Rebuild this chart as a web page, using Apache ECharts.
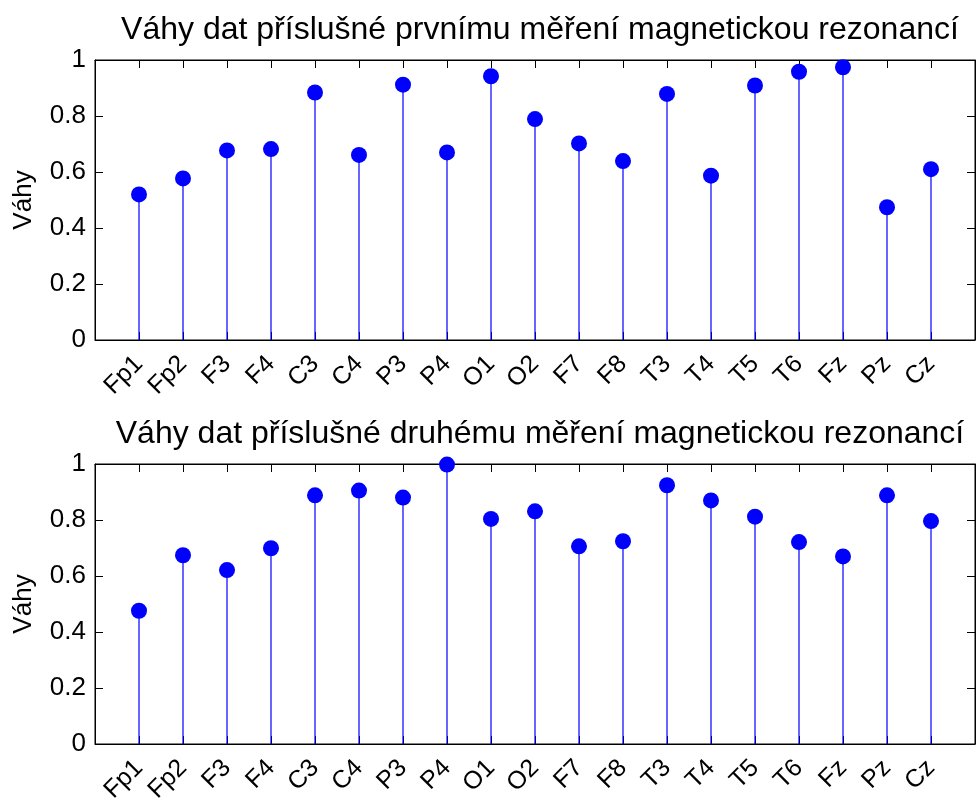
<!DOCTYPE html>
<html>
<head>
<meta charset="utf-8">
<script src="https://cdn.jsdelivr.net/npm/echarts@6/dist/echarts.min.js"></script>
<style>html,body{margin:0;padding:0;background:#fff}#c{width:976px;height:805px}</style>
</head>
<body>
<div id="c"></div>
<script>
const categories = ['Fp1','Fp2','F3','F4','C3','C4','P3','P4','O1','O2','F7','F8','T3','T4','T5','T6','Fz','Pz','Cz'];
const weights1 = [0.520,0.577,0.677,0.682,0.884,0.661,0.912,0.670,0.942,0.789,0.702,0.639,0.879,0.587,0.909,0.958,0.974,0.474,0.610];
const weights2 = [0.476,0.674,0.621,0.699,0.888,0.905,0.880,0.998,0.804,0.831,0.706,0.724,0.924,0.870,0.812,0.721,0.670,0.888,0.796];
const yTicks = [0, 0.2, 0.4, 0.6, 0.8, 1];
const titles = ['Váhy dat příslušné prvnímu měření magnetickou rezonancí',
                'Váhy dat příslušné druhému měření magnetickou rezonancí'];
const yName = 'Váhy';

const FONT = 'Liberation Sans, Arial, sans-serif';
const BLUE = '#0000FF';
const chart = echarts.init(document.getElementById('c'));

const grids = [
  {left: 95, top: 60, width: 880, height: 280, containLabel: false, outerBoundsMode: 'none',
   show: true, borderColor: '#000', borderWidth: 1},
  {left: 95, top: 464, width: 880, height: 280, containLabel: false, outerBoundsMode: 'none',
   show: true, borderColor: '#000', borderWidth: 1}
];
const xAxes = [], yAxes = [], series = [];
const datasets = [weights1, weights2];
const tickStyle = {show: true, inside: true, length: 8, lineStyle: {color: '#000', width: 1}};
const lineStyle = {show: true, onZero: false, lineStyle: {color: '#000', width: 1}};
grids.forEach((g, i) => {
  xAxes.push({
    type: 'value', gridIndex: i, min: 0, max: categories.length + 1, interval: 1,
    position: 'bottom', axisLine: lineStyle, axisTick: tickStyle,
    axisLabel: {
      show: true, rotate: 45, margin: 20, fontSize: 25, color: '#000', fontFamily: FONT,
      formatter: v => categories[v - 1] || ''
    },
    splitLine: {show: false}
  });
  xAxes.push({
    type: 'value', gridIndex: i, min: 0, max: categories.length + 1, interval: 1,
    position: 'top', axisLine: lineStyle, axisTick: tickStyle,
    axisLabel: {show: false}, splitLine: {show: false}
  });
  yAxes.push({
    type: 'value', gridIndex: i, min: yTicks[0], max: yTicks[yTicks.length - 1], interval: 0.2,
    position: 'left',
    name: yName, nameLocation: 'middle', nameGap: 58,
    nameTextStyle: {fontSize: 26, color: '#000', fontFamily: FONT},
    axisLine: lineStyle, axisTick: tickStyle,
    axisLabel: {show: true, margin: 9, fontSize: 26, color: '#000', fontFamily: FONT,
      formatter: v => String(+v.toFixed(1))},
    splitLine: {show: false}
  });
  yAxes.push({
    type: 'value', gridIndex: i, min: yTicks[0], max: yTicks[yTicks.length - 1], interval: 0.2,
    position: 'right', axisLine: lineStyle, axisTick: tickStyle,
    axisLabel: {show: false}, splitLine: {show: false}
  });
  const data = datasets[i].map((v, k) => [k + 1, v]);
  series.push({
    type: 'custom', xAxisIndex: i * 2, yAxisIndex: i * 2, data: data, z: 2,
    renderItem: (params, api) => {
      const top = api.coord([api.value(0), api.value(1)]);
      const base = api.coord([api.value(0), 0]);
      return {type: 'line', shape: {x1: top[0], y1: top[1], x2: base[0], y2: base[1]},
              style: {stroke: BLUE, lineWidth: 1.2}};
    }
  });
  series.push({
    type: 'scatter', xAxisIndex: i * 2, yAxisIndex: i * 2, data: data, z: 3,
    symbol: 'circle', symbolSize: 16, itemStyle: {color: BLUE, opacity: 1}
  });
});

chart.setOption({
  animation: false,
  backgroundColor: '#fff',
  title: [
    {text: titles[0], left: 535, textAlign: 'center', top: 9,
     textStyle: {fontSize: 32, fontWeight: 'normal', color: '#000', fontFamily: FONT}},
    {text: titles[1], left: 535, textAlign: 'center', top: 413,
     textStyle: {fontSize: 32, fontWeight: 'normal', color: '#000', fontFamily: FONT}}
  ],
  grid: grids,
  xAxis: xAxes,
  yAxis: yAxes,
  series: series
});
</script>
</body>
</html>
